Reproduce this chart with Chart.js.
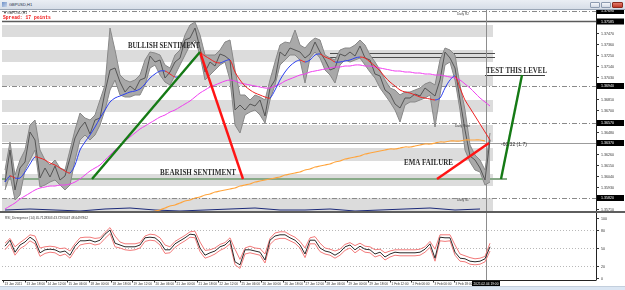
<!DOCTYPE html>
<html>
<head>
<meta charset="utf-8">
<title>GBPUSD,H1</title>
<script src="https://cdn.jsdelivr.net/npm/chart.js@4.4.1/dist/chart.umd.min.js"></script>
<style>
  body { margin: 0; width: 625px; height: 290px; overflow: hidden; background: #fff; position: relative; font-family: "Liberation Sans", Arial, sans-serif; }
  .abs { position: absolute; }
  canvas { display: block; }
  #bar { left: 0; top: 0; width: 625px; height: 10px; background: linear-gradient(#eaeef4, #d7dee8); border-bottom: 1px solid #9aa6b6; box-sizing: border-box; }
  .tiny { position: absolute; transform-origin: 0 0; white-space: nowrap; line-height: 1; }
  .btn { position: absolute; top: 2px; width: 10px; height: 6px; border: 1px solid #8d9bb0; box-sizing: border-box; background: linear-gradient(#f4f6fa, #d3dae5); border-radius: 1px; }
  #sep { left: 0; top: 211px; width: 625px; height: 2px; background: #5e5e5e; }
  #status { left: 0; top: 286px; width: 625px; height: 4px; background: #dbe6f3; border-top: 1px solid #c3cfdd; box-sizing: border-box; }
</style>
</head>
<body>
<div id="bar" class="abs"></div>
<div class="abs" style="left:2px;top:2px;width:5px;height:5px;background:linear-gradient(135deg,#6d8fc7,#c9d6ea);"></div>
<div class="tiny" style="left:9px;top:2.5px;font-size:8px;color:#1f2d45;transform:scale(0.5)">GBPUSD,H1</div>
<div class="btn" style="left:590px"></div>
<div class="btn" style="left:601px"></div>
<div class="btn" style="left:612px;width:11px;background:linear-gradient(#e07a6a,#c23a28);border-color:#8a2a1e"></div>

<div class="abs" style="left:2px;top:10px;width:623px;height:201px"><canvas id="main" width="623" height="201"></canvas></div>
<div id="sep" class="abs"></div>
<div class="abs" style="left:2px;top:213px;width:623px;height:73px"><canvas id="rsi" width="623" height="73"></canvas></div>
<div id="status" class="abs"></div>

<div class="tiny" style="left:4px;top:11px;font-size:7px;color:#333;transform:scale(0.5)">&#9662; GBPUSD,H1</div>
<div class="tiny" style="left:3px;top:14.5px;font:bold 9px 'Liberation Mono',monospace;color:#f01010;transform:scale(0.52)">Spread: 17 points</div>

<script>
// GBPUSD H1, 13 Jan - 4 Feb 2021, one sample every ~4 bars
var priceHigh = [
	1.3610,1.3638,1.3605,1.3620,1.3630,1.3655,1.3660,1.3630,1.3620,1.3615,
	1.3620,1.3612,1.3610,1.3630,1.3650,1.3667,1.3662,1.3660,1.3665,1.3680,
	1.3695,1.3752,1.3730,1.3705,1.3700,1.3698,1.3700,1.3705,1.3720,1.3728,
	1.3727,1.3725,1.3715,1.3712,1.3725,1.3730,1.3745,1.3755,1.3758,1.3745,
	1.3725,1.3725,1.3725,1.3730,1.3738,1.3740,1.3710,1.3685,1.3685,1.3680,
	1.3685,1.3683,1.3680,1.3700,1.3718,1.3735,1.3738,1.3737,1.3750,1.3735,
	1.3732,1.3738,1.3742,1.3740,1.3725,1.3722,1.3720,1.3730,1.3732,1.3732,
	1.3735,1.3740,1.3735,1.3725,1.3718,1.3710,1.3700,1.3692,1.3690,1.3685,
	1.3688,1.3688,1.3690,1.3692,1.3696,1.3698,1.3695,1.3720,1.3732,1.3730,
	1.3725,1.3695,1.3670,1.3635,1.3625,1.3620,1.3610,1.3647
];
var priceLow = [
	1.3590,1.3605,1.3580,1.3585,1.3610,1.3620,1.3630,1.3593,1.3595,1.3598,
	1.3600,1.3595,1.3590,1.3595,1.3620,1.3640,1.3645,1.3640,1.3645,1.3655,
	1.3670,1.3690,1.3700,1.3685,1.3683,1.3683,1.3685,1.3685,1.3695,1.3712,
	1.3715,1.3705,1.3698,1.3695,1.3705,1.3715,1.3725,1.3735,1.3740,1.3725,
	1.3700,1.3705,1.3710,1.3715,1.3718,1.3700,1.3655,1.3647,1.3665,1.3668,
	1.3670,1.3665,1.3657,1.3680,1.3695,1.3715,1.3720,1.3725,1.3725,1.3720,
	1.3697,1.3722,1.3728,1.3722,1.3710,1.3705,1.3697,1.3715,1.3720,1.3718,
	1.3720,1.3722,1.3715,1.3708,1.3702,1.3692,1.3685,1.3678,1.3670,1.3658,
	1.3675,1.3678,1.3678,1.3680,1.3682,1.3685,1.3653,1.3685,1.3715,1.3718,
	1.3700,1.3670,1.3630,1.3618,1.3610,1.3608,1.3595,1.3598
];
var priceClose = [
	1.3598,1.3630,1.3590,1.3612,1.3618,1.3648,1.3640,1.3602,1.3612,1.3603,
	1.3614,1.3600,1.3604,1.3622,1.3642,1.3652,1.3658,1.3646,1.3660,1.3662,
	1.3688,1.3710,1.3712,1.3698,1.3688,1.3694,1.3690,1.3700,1.3702,1.3724,
	1.3718,1.3720,1.3702,1.3708,1.3718,1.3722,1.3740,1.3742,1.3752,1.3732,
	1.3708,1.3718,1.3714,1.3726,1.3724,1.3720,1.3670,1.3675,1.3670,1.3676,
	1.3674,1.3680,1.3664,1.3692,1.3700,1.3728,1.3724,1.3732,1.3730,1.3728,
	1.3722,1.3726,1.3738,1.3728,1.3720,1.3710,1.3712,1.3726,1.3724,1.3728,
	1.3724,1.3734,1.3722,1.3720,1.3706,1.3704,1.3690,1.3686,1.3676,1.3672,
	1.3682,1.3682,1.3686,1.3684,1.3692,1.3688,1.3684,1.3700,1.3728,1.3722,
	1.3712,1.3680,1.3650,1.3624,1.3620,1.3612,1.3600,1.3640
];
var maFast = [
	1.3598,1.3604,1.3602,1.3602,1.3608,1.3616,1.3623,1.3622,1.3620,1.3617,
	1.3615,1.3612,1.3609,1.3607,1.3615,1.3630,1.3638,1.3645,1.3653,1.3662,
	1.3670,1.3678,1.3682,1.3684,1.3686,1.3688,1.3689,1.3691,1.3696,1.3702,
	1.3706,1.3709,1.3709,1.3706,1.3703,1.3704,1.3710,1.3717,1.3723,1.3727,
	1.3724,1.3721,1.3718,1.3717,1.3719,1.3720,1.3708,1.3700,1.3694,1.3690,
	1.3687,1.3685,1.3683,1.3682,1.3690,1.3700,1.3708,1.3714,1.3718,1.3720,
	1.3718,1.3720,1.3725,1.3726,1.3723,1.3721,1.3718,1.3718,1.3719,1.3720,
	1.3722,1.3723,1.3722,1.3718,1.3714,1.3709,1.3703,1.3698,1.3694,1.3690,
	1.3688,1.3687,1.3685,1.3683,1.3682,1.3681,1.3680,1.3682,1.3692,1.3700,
	1.3704,1.3692,1.3680,1.3672,1.3664,1.3656,1.3648,1.3640
];
var maMid = [
	1.3571,1.3574,1.3577,1.3581,1.3584,1.3587,1.3590,1.3592,1.3593,1.3594,
	1.3594,1.3595,1.3595,1.3596,1.3598,1.3601,1.3605,1.3609,1.3612,1.3615,
	1.3620,1.3625,1.3630,1.3634,1.3639,1.3643,1.3647,1.3651,1.3654,1.3657,
	1.3660,1.3663,1.3665,1.3668,1.3670,1.3673,1.3676,1.3679,1.3683,1.3687,
	1.3690,1.3693,1.3695,1.3697,1.3699,1.3700,1.3699,1.3697,1.3696,1.3695,
	1.3694,1.3693,1.3692,1.3692,1.3694,1.3696,1.3699,1.3701,1.3703,1.3705,
	1.3706,1.3708,1.3709,1.3710,1.3711,1.3712,1.3713,1.3713,1.3714,1.3714,
	1.3715,1.3715,1.3714,1.3714,1.3713,1.3712,1.3711,1.3710,1.3709,1.3709,
	1.3708,1.3708,1.3707,1.3707,1.3706,1.3706,1.3705,1.3705,1.3704,1.3703,
	1.3702,1.3700,1.3696,1.3692,1.3687,1.3682,1.3678,1.3674
];
var maSlow = [
	null,null,null,null,null,null,null,null,null,null,
	null,null,null,null,null,null,null,null,null,null,
	null,null,null,null,null,null,null,null,null,1.3567,
	1.3569,1.3570,1.3572,1.3574,1.3575,1.3577,1.3579,1.3580,1.3582,1.3583,
	1.3585,1.3586,1.3588,1.3589,1.3590,1.3591,1.3592,1.3594,1.3595,1.3596,
	1.3598,1.3599,1.3600,1.3601,1.3602,1.3603,1.3605,1.3606,1.3607,1.3608,
	1.3610,1.3611,1.3613,1.3614,1.3615,1.3616,1.3618,1.3619,1.3621,1.3622,
	1.3623,1.3624,1.3626,1.3627,1.3628,1.3629,1.3630,1.3631,1.3631,1.3632,
	1.3633,1.3633,1.3634,1.3635,1.3636,1.3636,1.3637,1.3638,1.3638,1.3639,
	1.3639,1.3639,1.3640,1.3640,1.3640,1.3640,1.3639,null
];
var subLine = [1.3570,1.3571,1.3570,1.3569,1.3571,1.3572,1.3570,1.3569,1.3570,1.3571,
	1.3572,1.3570,1.3570,1.3571,1.3569,1.3570,1.3571,1.3572,1.3570,1.3571];

var rsiMain = [
	53,63,43,55,60,68,62,42,47,48,
	47,43,45,38,53,62,62,63,60,63,
	73,80,58,55,52,52,52,55,67,68,
	67,60,47,47,57,62,67,73,72,50,
	38,42,45,52,55,63,27,22,47,47,
	45,43,30,63,70,72,72,67,63,55,
	40,63,63,50,45,43,38,43,52,55,
	47,53,48,47,40,43,35,40,43,42,
	42,42,42,43,48,57,33,68,67,67,
	43,33,32,28,27,28,32,52
];
var rsiUpper = [
	58,66,52,59,65,72,70,50,52,53,
	52,49,50,45,57,67,68,68,66,67,
	76,84,70,60,57,57,57,59,70,73,
	72,67,55,52,61,66,71,77,78,60,
	46,47,50,56,59,67,48,31,50,53,
	50,49,40,66,75,77,77,72,68,61,
	50,67,69,58,50,48,45,48,56,59,
	54,58,53,52,47,48,42,45,47,47,
	47,47,47,48,52,61,48,72,72,72,
	55,40,37,34,32,33,36,58
];
var rsiLower = [
	47,57,38,49,54,62,57,36,41,43,
	42,37,40,33,46,55,57,58,55,57,
	66,74,52,50,47,46,47,50,61,63,
	62,55,41,42,51,57,62,68,67,44,
	33,36,40,46,50,57,22,16,40,42,
	40,38,25,56,64,66,66,62,58,50,
	34,57,57,44,40,38,33,38,46,50,
	42,48,43,42,35,38,30,35,38,37,
	37,37,37,38,43,51,28,62,61,62,
	38,28,27,23,22,23,27,45
];

var timeLabels = ["13 Jan 2021","13 Jan 18:00","14 Jan 12:00","15 Jan 06:00","18 Jan 00:00","18 Jan 18:00",
	"19 Jan 12:00","20 Jan 06:00","21 Jan 00:00","21 Jan 18:00","22 Jan 12:00","25 Jan 06:00","26 Jan 00:00",
	"26 Jan 18:00","27 Jan 12:00","28 Jan 06:00","29 Jan 00:00","29 Jan 18:00","1 Feb 12:00","2 Feb 06:00",
	"3 Feb 00:00","3 Feb 18:00"];
var lastBarTime = "2021.02.04 19:00";
var priceTicks = [1.3747,1.3736,1.3725,1.3714,1.3703,1.3692,1.3681,1.3670,1.3659,1.3648,
	1.3637,1.3626,1.3615,1.3604,1.3593,1.3582,1.3571];
var rsiTicks = [100, 80, 50, 20, 0];
var rsiLevels = [80, 50, 20];

// levels drawn on the chart
var pivotLevels = [1.3769, 1.3694, 1.3657, 1.3582];
var upperLine = 1.37585;
var rangeLines = [1.3727, 1.3723];
var bidPrice = 1.3637;
var supportLine = 1.3601;
var testLevel = 1.3705;
var levelMarks = [1.37690, 1.37585, 1.36940, 1.36570, 1.36370, 1.35820];
var zones = [[1.3755,1.3743],[1.3730,1.3718],[1.3705,1.3694],[1.3680,1.3668],
	[1.3655,1.3638],[1.3632,1.3619],[1.3606,1.3594],[1.3582,1.3569]];

// trend lines (sample, price)
var trendUp1   = [{x: 17.4, y: 1.3601}, {x: 39,   y: 1.3728}];
var trendDown1 = [{x: 39,   y: 1.3728}, {x: 47.6, y: 1.3601}];
var trendEma   = [{x: 86.4, y: 1.3601}, {x: 96.8, y: 1.3637}];
var trendUp2   = [{x: 99.2, y: 1.3601}, {x: 103.4, y: 1.3705}];

var lastBar = 96.2;

var notes = [
	['BULLISH SENTIMENT', 24.6, 1.3732, 72],
	['BEARISH SENTIMENT', 31, 1.3605, 76],
	['EMA FAILURE', 79.8, 1.3615, 49],
	['TEST THIS LEVEL', 96.2, 1.3707, 61]
];
var smallNotes = [
	['Daily R2', 90.4, 1.3765],
	['Daily Pivot', 90.0, 1.3653],
	['Daily S1', 90.4, 1.3579]
];

function pts(arr) {
	return arr.map(function(v, i) { return {x: i, y: v}; });
}

function line(data, color, width, extra) {
	return Object.assign({data: data, borderColor: color, borderWidth: width, pointRadius: 0, fill: false, tension: 0}, extra || {});
}

function seg(ctx, x1, y1, x2, y2, color, w, dash) {
	ctx.save();
	ctx.strokeStyle = color;
	ctx.lineWidth = w;
	ctx.setLineDash(dash || []);
	ctx.beginPath();
	ctx.moveTo(x1, y1);
	ctx.lineTo(x2, y2);
	ctx.stroke();
	ctx.restore();
}

function axisWidth(s) { s.width = 29; }

var mainDecor = {
	id: 'mainDecor',
	beforeDatasetsDraw: function(chart) {
		var ctx = chart.ctx, a = chart.chartArea;
		var X = function(v) { return chart.scales.x.getPixelForValue(v); };
		var Yr = function(v) { return chart.scales.y.getPixelForValue(v); };
		var Y = function(v) { return Math.round(Yr(v)) + 0.5; };

		ctx.save();
		ctx.fillStyle = '#dcdcdc';
		zones.forEach(function(z) {
			ctx.fillRect(a.left, Yr(z[0]), X(97.6) - a.left, Yr(z[1]) - Yr(z[0]));
		});
		ctx.restore();

		pivotLevels.forEach(function(p) { seg(ctx, a.left, Y(p), a.right, Y(p), '#8a8a8a', 1, [5, 2, 1, 2]); });
		seg(ctx, a.left, Y(upperLine), a.right, Y(upperLine), '#5b5b5b', 1.5);
		rangeLines.forEach(function(p) { seg(ctx, X(65), Y(p), X(98), Y(p), '#4d4d4d', 1); });
		seg(ctx, a.left, Y(bidPrice), a.right, Y(bidPrice), '#9c9c9c', 1);
		seg(ctx, a.left, Yr(supportLine), X(100.4), Yr(supportLine), '#88aa88', 2);
		seg(ctx, X(96), Y(testLevel), X(108), Y(testLevel), '#3a3a3a', 1);
		var vx = Math.round(X(lastBar)) + 0.5;
		seg(ctx, vx, a.top, vx, a.bottom, '#8d8d8d', 1);
	},
	afterDatasetsDraw: function(chart) {
		var ctx = chart.ctx, a = chart.chartArea;
		var X = function(v) { return chart.scales.x.getPixelForValue(v); };
		var Yr = function(v) { return chart.scales.y.getPixelForValue(v); };

		ctx.save();
		ctx.fillStyle = '#2e2e2e';
		ctx.textBaseline = 'alphabetic';
		ctx.textAlign = 'left';
		ctx.font = 'bold 8.5px "Liberation Serif"';
		notes.forEach(function(n) { ctx.fillText(n[0], X(n[1]), Yr(n[2]), n[3]); });

		ctx.font = '5px "Liberation Sans"';
		ctx.fillStyle = '#333';
		ctx.fillText('-60.32 (1.7)', X(99.2), Yr(1.3634));

		ctx.font = '3.2px "Liberation Sans"';
		ctx.fillStyle = '#444';
		smallNotes.forEach(function(n) { ctx.fillText(n[0], X(n[1]), Yr(n[2])); });

		// price axis
		var r = a.right;
		seg(ctx, r + 0.5, a.top, r + 0.5, a.bottom, '#222', 1);
		ctx.font = '3.6px "Liberation Sans"';
		ctx.textBaseline = 'middle';
		priceTicks.forEach(function(v) {
			var y = Math.round(Yr(v)) + 0.5;
			var hidden = levelMarks.some(function(m) { return Math.abs(Yr(m) - y) < 6; });
			if (hidden) return;
			seg(ctx, r, y, r + 3, y, '#333', 1);
			ctx.fillStyle = '#333';
			ctx.fillText(v.toFixed(5), r + 5, y);
		});
		levelMarks.forEach(function(v) {
			var y = Yr(v);
			ctx.fillStyle = '#000';
			ctx.fillRect(r + 1, y - 3, 27, 6);
			ctx.fillStyle = '#fff';
			ctx.fillText(v.toFixed(5), r + 5, y);
		});
		ctx.restore();
	}
};

var rsiDecor = {
	id: 'rsiDecor',
	beforeDatasetsDraw: function(chart) {
		var ctx = chart.ctx, a = chart.chartArea;
		var X = function(v) { return chart.scales.x.getPixelForValue(v); };
		var Y = function(v) { return Math.round(chart.scales.y.getPixelForValue(v)) + 0.5; };
		rsiLevels.forEach(function(l) { seg(ctx, a.left, Y(l), a.right, Y(l), '#b8b8b8', 1, [1, 2]); });
		var vx = Math.round(X(lastBar)) + 0.5;
		seg(ctx, vx, a.top - 1, vx, a.bottom, '#8d8d8d', 1);
	},
	afterDatasetsDraw: function(chart) {
		var ctx = chart.ctx, a = chart.chartArea;
		var X = function(v) { return chart.scales.x.getPixelForValue(v); };
		var Y = function(v) { return Math.round(chart.scales.y.getPixelForValue(v)) + 0.5; };
		var r = a.right;
		var b = Math.round(a.bottom) + 0.5;

		seg(ctx, r + 0.5, 0, r + 0.5, b, '#222', 1);
		seg(ctx, a.left, b, r, b, '#222', 1);

		ctx.save();
		ctx.font = '3.6px "Liberation Sans"';
		ctx.textBaseline = 'middle';
		ctx.textAlign = 'left';
		ctx.fillStyle = '#333';
		rsiTicks.forEach(function(v) {
			seg(ctx, r, Y(v), r + 3, Y(v), '#333', 1);
			ctx.fillText(String(v), r + 5, Y(v));
		});

		ctx.font = '3.2px "Liberation Sans"';
		ctx.fillText('RSI_Divergence (14) 45.7128303 43.7293047 48.6497862', a.left + 3, a.top + 4.5);

		// time axis
		timeLabels.forEach(function(t, j) {
			var x = Math.round(X(-0.4 + 4.3 * j)) + 0.5;
			seg(ctx, x, b, x, b + 2, '#333', 1);
			ctx.fillStyle = '#333';
			ctx.fillText(t, x + 1, b + 3.5);
		});
		var vx = X(lastBar);
		ctx.fillStyle = '#000';
		ctx.fillRect(vx - 14, b + 0.5, 28, 6);
		ctx.fillStyle = '#fff';
		ctx.textAlign = 'center';
		ctx.fillText(lastBarTime, vx, b + 3.5);
		ctx.restore();
	}
};

var xScale = {type: 'linear', min: -0.6, max: 118.2, display: false};

new Chart(document.getElementById('main'), {
	type: 'line',
	data: {
		datasets: [
			line(trendUp1, '#157a15', 2.4),
			line(trendDown1, '#ff1414', 2.4),
			line(trendEma, '#ff1414', 2.4),
			line(trendUp2, '#157a15', 2.4),
			line(pts(maFast), '#2b3ff0', 1, {tension: 0.3, segment: {
				borderColor: function(c) { return c.p1.parsed.y >= c.p0.parsed.y ? '#2b3ff0' : '#ee2222'; }
			}}),
			line(pts(maMid), '#f040f0', 1, {tension: 0.3}),
			line(pts(maSlow), '#ffa43c', 1.2, {tension: 0.3}),
			line(pts(priceClose), '#555555', 1),
			line(pts(priceHigh), '#888888', 1),
			line(pts(priceLow), '#888888', 1, {fill: '-1', backgroundColor: '#a9a9a9'}),
			line(subLine.map(function(v, i) { return {x: i * 5, y: v}; }), '#1c2a7a', 1)
		]
	},
	options: {
		responsive: false,
		animation: false,
		events: [],
		layout: {padding: 0},
		plugins: {legend: {display: false}, tooltip: {enabled: false}},
		scales: {
			x: xScale,
			y: {
				position: 'right', min: 1.3569, max: 1.3770,
				ticks: {display: false}, grid: {display: false}, border: {display: false},
				afterFit: axisWidth
			}
		}
	},
	plugins: [mainDecor]
});

new Chart(document.getElementById('rsi'), {
	type: 'line',
	data: {
		datasets: [
			line(pts(rsiMain), '#2a2a2a', 1),
			line(pts(rsiUpper), '#f27a7a', 1),
			line(pts(rsiLower), '#f27a7a', 1)
		]
	},
	options: {
		responsive: false,
		animation: false,
		events: [],
		layout: {padding: {top: 1, bottom: 6}},
		plugins: {legend: {display: false}, tooltip: {enabled: false}},
		scales: {
			x: xScale,
			y: {
				position: 'right', min: -3.33, max: 106.67,
				ticks: {display: false}, grid: {display: false}, border: {display: false},
				afterFit: axisWidth
			}
		}
	},
	plugins: [rsiDecor]
});
</script>
</body>
</html>
